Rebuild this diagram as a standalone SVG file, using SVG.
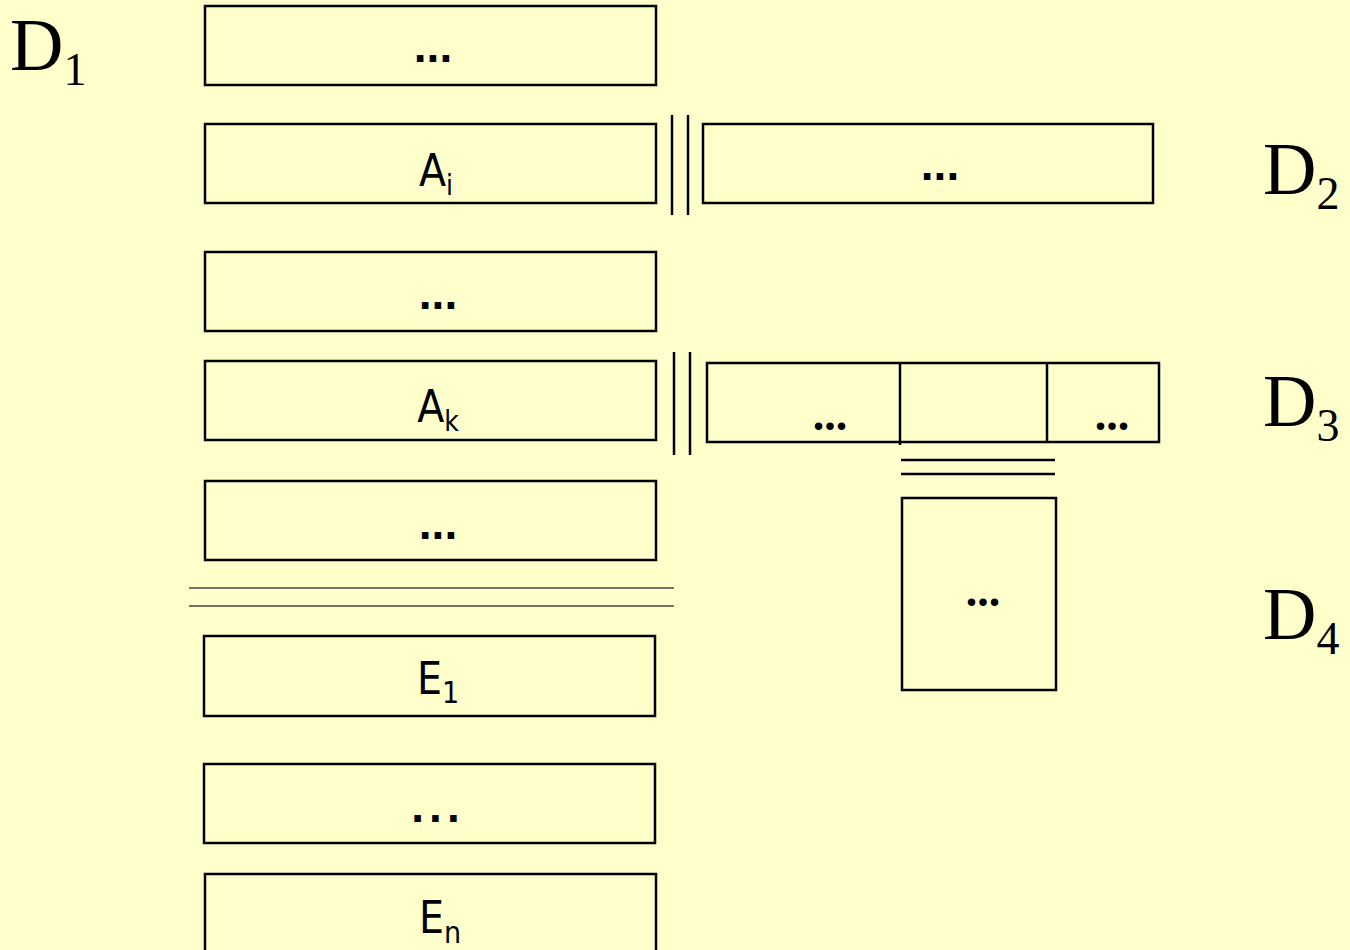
<svg xmlns="http://www.w3.org/2000/svg" width="1350" height="950" viewBox="0 0 1350 950">
<style>
.box{fill:none;stroke:#000;stroke-width:2.5}
.ln{stroke:#000;stroke-width:2.5;fill:none}
.gl{stroke:#444;stroke-width:1.5;fill:none}
.s{font-family:"DejaVu Sans Condensed","DejaVu Sans",sans-serif;font-stretch:condensed;font-size:44px;fill:#000;text-anchor:middle}
.dots{font-family:"Liberation Sans",Arial,sans-serif;font-size:46px;font-weight:bold;fill:#000;text-anchor:middle}
.d{font-family:"Liberation Serif","Times New Roman",serif;font-size:74px;fill:#000}
.t{font-family:"Liberation Serif","Times New Roman",serif;font-size:46px;font-weight:bold;fill:#000;text-anchor:middle}
</style>
<rect width="1350" height="950" fill="#FFFFCC"/>
<g id="labels">
<text class="d" x="10" y="70">D<tspan font-size="46" dy="15">1</tspan></text>
<text class="d" x="1263" y="194">D<tspan font-size="46" dy="15">2</tspan></text>
<text class="d" x="1263" y="426">D<tspan font-size="46" dy="15">3</tspan></text>
<text class="d" x="1263" y="639">D<tspan font-size="46" dy="15">4</tspan></text>
</g>
<g id="n1"><rect class="box" x="205" y="6" width="451" height="79"/><text class="dots" x="433" y="62">...</text></g>
<g id="nAi"><rect class="box" x="205" y="124" width="451" height="79"/><text class="s" x="436" y="186">A<tspan font-size="28" dy="9">i</tspan></text></g>
<g id="nD2"><rect class="box" x="703" y="124" width="450" height="79"/><text class="dots" x="940" y="180">...</text></g>
<g id="n3"><rect class="box" x="205" y="252" width="451" height="79"/><text class="dots" x="438" y="309">...</text></g>
<g id="nAk"><rect class="box" x="205" y="361" width="451" height="79"/><text class="s" x="438" y="422">A<tspan font-size="28" dy="9">k</tspan></text></g>
<g id="nD3"><rect class="box" x="707" y="363" width="452" height="79"/>
<line class="ln" x1="900" y1="363" x2="900" y2="445"/><line class="ln" x1="1047" y1="363" x2="1047" y2="442"/>
<text class="t" x="830" y="430">...</text><text class="t" x="1112" y="430">...</text></g>
<g id="nD4"><rect class="box" x="902" y="498" width="154" height="192"/><text class="t" x="983" y="606">...</text></g>
<g id="n5"><rect class="box" x="205" y="481" width="451" height="79"/><text class="dots" x="438" y="539">...</text></g>
<g id="nE1"><rect class="box" x="204" y="636" width="451" height="80"/><text class="s" x="438" y="694">E<tspan font-size="30" dy="9">1</tspan></text></g>
<g id="n6"><rect class="box" x="204" y="764" width="451" height="79"/><text class="dots" x="438" y="822" letter-spacing="5">...</text></g>
<g id="nEn"><rect class="box" x="205" y="874" width="451" height="90"/><text class="s" x="440" y="933">E<tspan font-size="30" dy="10">n</tspan></text></g>
<g id="connectors">
<line class="ln" x1="672" y1="115" x2="672" y2="215"/><line class="ln" x1="688" y1="115" x2="688" y2="215"/>
<line class="ln" x1="674" y1="352" x2="674" y2="455"/><line class="ln" x1="690" y1="352" x2="690" y2="455"/>
<line class="ln" x1="901" y1="460" x2="1055" y2="460"/><line class="ln" x1="901" y1="474" x2="1055" y2="474"/>
<line class="gl" x1="189" y1="588" x2="674" y2="588"/><line class="gl" x1="189" y1="606" x2="674" y2="606"/>
</g>
</svg>
